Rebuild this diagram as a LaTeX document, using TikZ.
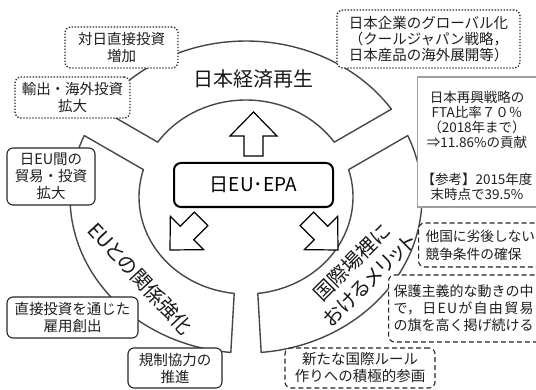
\documentclass[tikz,border=0pt]{standalone}
\usepackage{fontspec}
\newfontfamily\jp{Noto Sans CJK JP}
\newfontfamily\jpp[RawFeature=+palt]{Noto Sans CJK JP}
\begin{document}
\begin{tikzpicture}[x=1pt,y=1pt,
  ringseg/.style={draw=black!72, line width=1.4pt, fill=white, line join=round},
  blockarrow/.style={draw=black, line width=1.2pt, fill=white, line join=miter},
  boxbase/.style={rounded corners=6pt, fill=white, align=center, inner sep=0pt,
    font=\jp\fontsize{14.5}{17}\selectfont, text=black!88},
  solidbox/.style={boxbase, draw=black!85, line width=1.1pt},
  dotbox/.style={boxbase, draw=black!85, line width=1.3pt, dash pattern=on 1.3pt off 1.7pt},
  dashbox/.style={boxbase, draw=black!85, line width=1.1pt, dash pattern=on 5pt off 3pt},
  ringlabel/.style={font=\jpp\fontsize{20}{24}\selectfont, align=center, text=black!90},
  graybox/.style={draw=black!38, line width=1.4pt, fill=white, inner sep=0pt},
  grtext/.style={font=\jp\fontsize{13.5}{15}\selectfont, align=center, text=black!88, inner sep=0pt}
]
\clip (0,0) rectangle (536,389);
\fill[white] (0,0) rectangle (536,389);

% ring segments
\draw[ringseg] ({246+176*cos(34.27)},{192+156*sin(34.27)})
  arc[start angle=34.27,end angle=145.73,x radius=176,y radius=156]
  -- ({246+107*cos(145.58)},{192+97*sin(145.58)})
  arc[start angle=145.58,end angle=34.42,x radius=107,y radius=97] -- cycle;
\draw[ringseg] ({246+176*cos(156.8)},{192+156*sin(156.8)})
  arc[start angle=156.8,end angle=265.05,x radius=176,y radius=156]
  -- ({246+107*cos(263.67)},{192+97*sin(263.67)})
  arc[start angle=263.67,end angle=163.6,x radius=107,y radius=97] -- cycle;
\draw[ringseg] ({246+176*cos(274.95)},{192+156*sin(274.95)})
  arc[start angle=274.95,end angle=383.2,x radius=176,y radius=156]
  -- ({246+107*cos(376.4)},{192+97*sin(376.4)})
  arc[start angle=376.4,end angle=276.33,x radius=107,y radius=97] -- cycle;

% block arrows
\draw[blockarrow, shift={(253.5,277)}, rotate=90]
  (0,0) -- (-24,23.5) -- (-24,9.5) -- (-44,9.5) -- (-44,-9.5) -- (-24,-9.5) -- (-24,-23.5) -- cycle;
\draw[blockarrow, shift={(170,139)}, rotate=225]
  (0,0) -- (-24,23.5) -- (-24,9.5) -- (-44,9.5) -- (-44,-9.5) -- (-24,-9.5) -- (-24,-23.5) -- cycle;
\draw[blockarrow, shift={(338,139)}, rotate=-45]
  (0,0) -- (-24,23.5) -- (-24,9.5) -- (-44,9.5) -- (-44,-9.5) -- (-24,-9.5) -- (-24,-23.5) -- cycle;

% centre box
\node[draw=black, line width=2pt, rounded corners=7pt, fill=white, minimum width=159pt,
  minimum height=44pt, inner sep=0pt, font=\jp\fontsize{19}{22}\selectfont] (epa) at (253.5,204) {日EU･EPA};

% ring labels
\node[ringlabel] (lbltop) at (253,310) {日本経済再生};
\node[ringlabel, rotate=-47.3] (lblleft) at (140.5,110.5) {EUとの関係強化};
\node[ringlabel, rotate=45, font=\jpp\fontsize{20}{25}\selectfont] (lblright) at (361,118) {国際場裡に\\おけるメリット};

% surrounding boxes
\node[dotbox, minimum width=113pt, minimum height=41pt] (fdi) at (121.5,341.5) {対日直接投資\\増加};
\node[dotbox, minimum width=115pt, minimum height=41pt] (export) at (72.5,291.5) {輸出・海外投資\\拡大};
\node[solidbox, minimum width=88pt, minimum height=57pt] (trade) at (51,212.5) {日EU間の\\貿易・投資\\拡大};
\node[solidbox, minimum width=131pt, minimum height=41pt] (jobs) at (72.5,71.5) {直接投資を通じた\\雇用創出};
\node[solidbox, minimum width=94pt, minimum height=40pt] (reg) at (175,21) {規制協力の\\推進};
\node[dashbox, minimum width=150pt, minimum height=40pt] (rules) at (360,21) {新たな国際ルール\\作りへの積極的参画};
\node[dashbox, minimum width=160pt, minimum height=67pt, text width=150pt, align=left, anchor=west,
  font=\jp\fontsize{14}{17}\selectfont] (protect) at (388,80.5)
  {保護主義的な動きの中\\\makebox[140pt][s]{で，\hfil 日\hfil E\hfil U\hfil が\hfil 自\hfil 由\hfil 貿\hfil 易}\\の旗を高く掲げ続ける};
\node[dashbox, minimum width=130pt, minimum height=44pt, text width=116pt, align=left, anchor=west,
  font=\jp\fontsize{13.7}{18}\selectfont] (compete) at (418,144)
  {他国に劣後しない\\競争条件の確保};
\node[dotbox, minimum width=183pt, minimum height=58pt, font=\jp\fontsize{14.5}{16}\selectfont] (global) at (428.5,350)
  {日本企業のグローバル化\\（クールジャパン戦略，\\日本産品の海外展開等）};
\node[graybox, minimum width=130pt, minimum height=130pt, anchor=west] (fta) at (417,247) {};
\node[grtext] (ftatext) at (477,243.5)
  {日本再興戦略の\\FTA比率７０％\\（2018年まで）\\⇒11.86\%の貢献\\[22pt]【参考】2015年度\\末時点で39.5\%};
\end{tikzpicture}
\end{document}
